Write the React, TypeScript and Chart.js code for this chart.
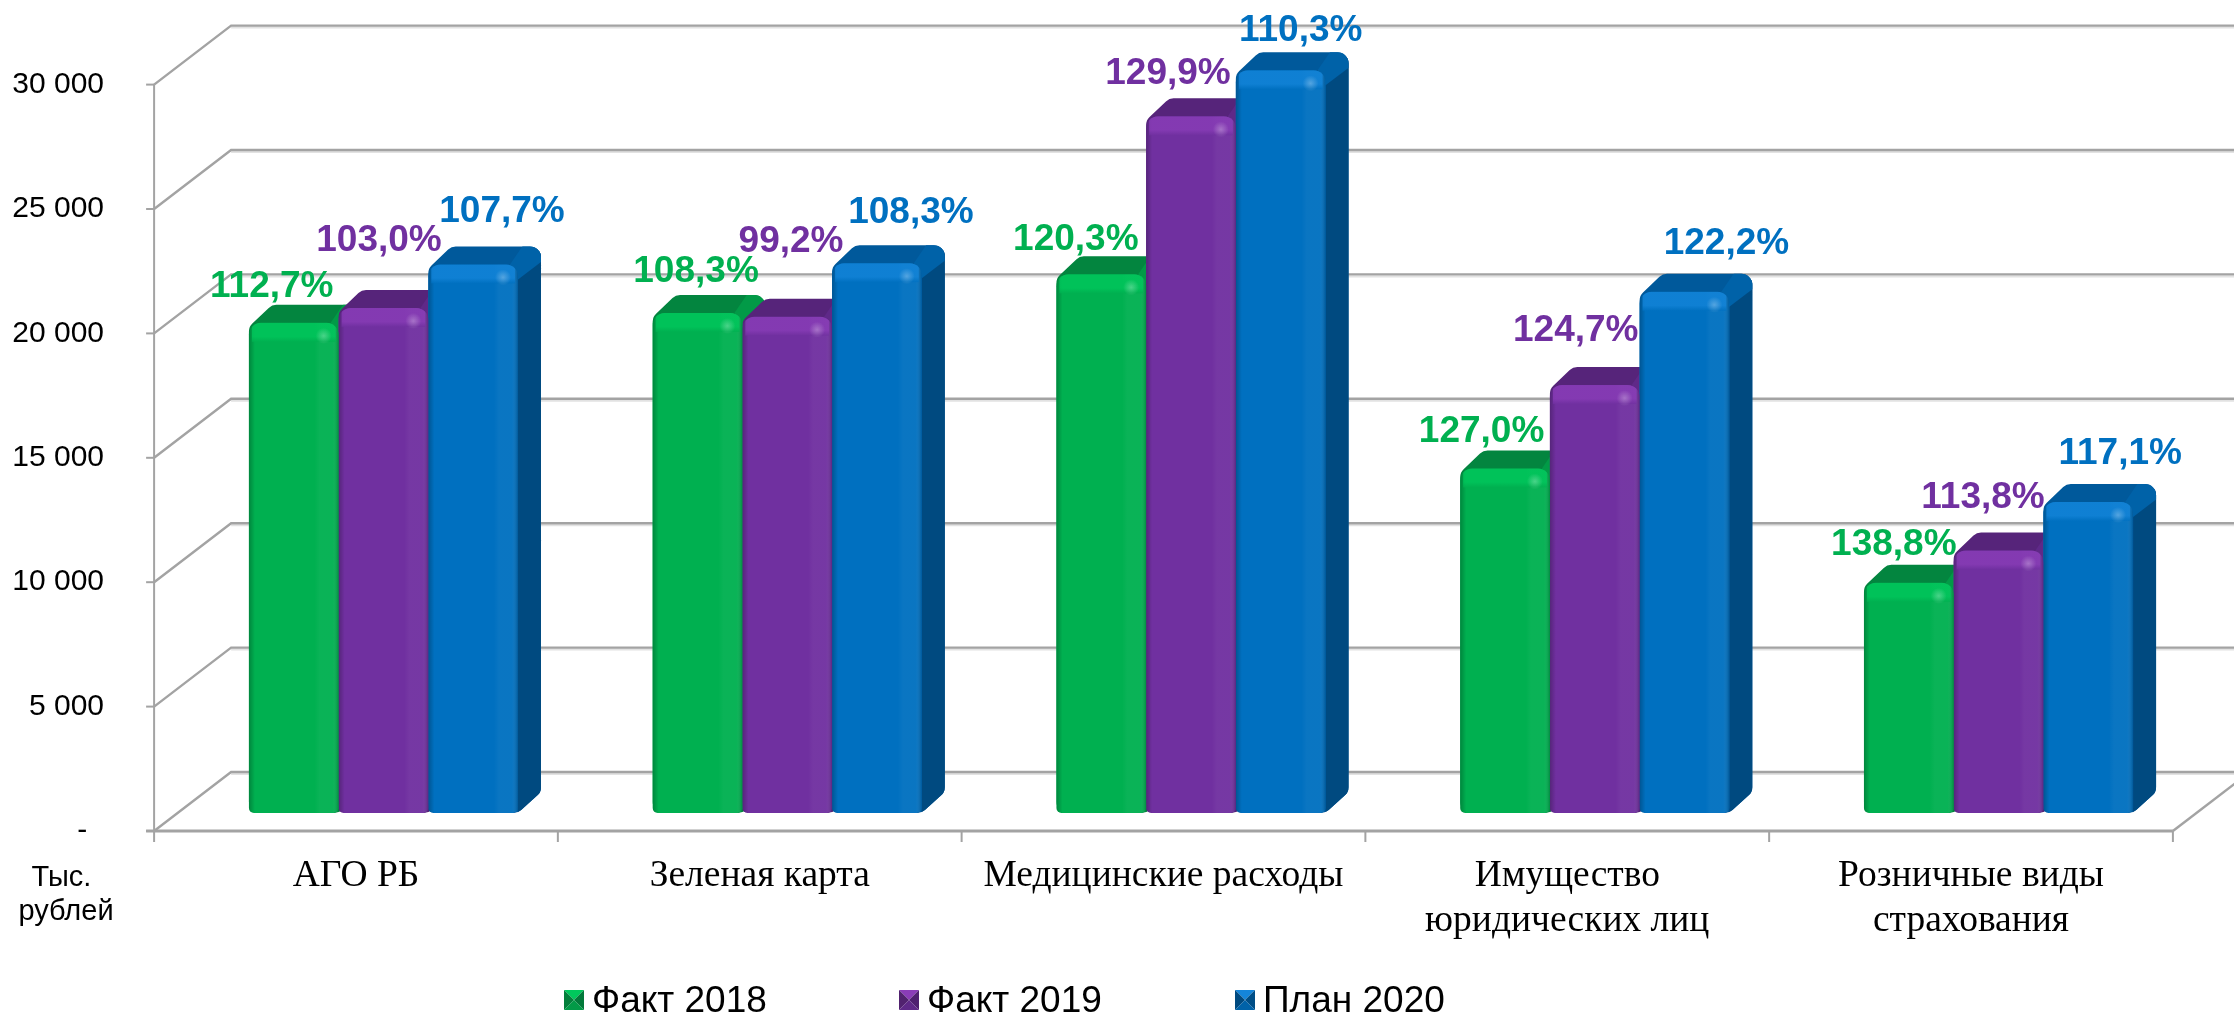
import React, { useEffect, useRef } from "react";
import { Chart, registerables } from "chart.js";

Chart.register(...registerables);

const categories = [
  "АГО РБ",
  "Зеленая карта",
  "Медицинские расходы",
  ["Имущество", "юридических лиц"],
  ["Розничные виды", "страхования"],
];
const fact2018 = [19700, 20100, 21650, 13850, 9250];
const fact2019 = [20300, 19950, 28000, 17200, 10550];
const plan2020 = [22050, 22100, 29850, 20950, 12500];
const growth2018 = ["112,7%", "108,3%", "120,3%", "127,0%", "138,8%"];
const growth2019 = ["103,0%", "99,2%", "129,9%", "124,7%", "113,8%"];
const growth2020 = ["107,7%", "108,3%", "110,3%", "122,2%", "117,1%"];
const seriesNames = ["Факт 2018", "Факт 2019", "План 2020"];
const axisUnit = ["Тыс.", "рублей"];

// Layout and styling, apart from the data
const palette = [
  { front: "#00B050", top: "#03853F", mid: "#029A47", side: "#037F3B", light: "#00C85C", dark: "#02793A" },
  { front: "#7030A0", top: "#56247A", mid: "#5F2988", side: "#51226F", light: "#8A3DB8", dark: "#4E2070" },
  { front: "#0070C0", top: "#00599B", mid: "#0062A8", side: "#004A80", light: "#1485DA", dark: "#004E86" },
];
const labelColors = ["#00B050", "#7030A0", "#0070C0"];
const labelShiftX = [
  [-22, -1.5, -25.5, -23.5, -15],
  [-4.5, 3.8, -23, -19, -15.5],
  [28.8, 34, 20, 42, 32],
];
const labelShiftY = [
  [-39, -44, -37, -39, -41],
  [-70, -78, -45, -57, -56],
  [-55, -53, -42, -51, -51],
];
const FRONT_DX = -27.5;
const FRONT_DY = 18;
const BACK_DX = 49.5;
const BACK_DY = -41;
const DEPTH_X = 23;
const DEPTH_Y = 18;
const LINE = "#A3A3A3";
const SANS = '"Liberation Sans", Arial, sans-serif';
const SERIF = '"Liberation Serif", "Times New Roman", serif';
const legendX = [564, 899, 1235];

function roundedPoly(ctx: CanvasRenderingContext2D, pts: number[][], r: number) {
  ctx.beginPath();
  const n = pts.length;
  const a0 = pts[n - 1];
  const b0 = pts[0];
  ctx.moveTo((a0[0] + b0[0]) / 2, (a0[1] + b0[1]) / 2);
  for (let i = 0; i < n; i++) {
    const p = pts[i];
    const q = pts[(i + 1) % n];
    ctx.arcTo(p[0], p[1], (p[0] + q[0]) / 2, (p[1] + q[1]) / 2, r);
  }
  ctx.closePath();
}

function poly(ctx: CanvasRenderingContext2D, pts: number[][], fill: string) {
  ctx.beginPath();
  pts.forEach((p, i) => (i ? ctx.lineTo(p[0], p[1]) : ctx.moveTo(p[0], p[1])));
  ctx.closePath();
  ctx.fillStyle = fill;
  ctx.fill();
}

const wallsPlugin = {
  id: "walls",
  beforeDatasetsDraw(chart: any) {
    const { ctx, scales } = chart;
    const x0 = scales.x.left + FRONT_DX;
    const x1 = scales.x.right + FRONT_DX;
    const bx0 = scales.x.left + BACK_DX;
    const bx1 = scales.x.right + BACK_DX;
    ctx.save();
    ctx.lineCap = "butt";
    // back wall grid lines with the side-wall diagonals
    scales.y.ticks.forEach((t: any) => {
      const py = scales.y.getPixelForValue(t.value);
      ctx.strokeStyle = "#E2E2E2";
      ctx.lineWidth = 2;
      ctx.beginPath();
      ctx.moveTo(bx0, py + BACK_DY + 2);
      ctx.lineTo(bx1, py + BACK_DY + 2);
      ctx.stroke();
      ctx.strokeStyle = LINE;
      ctx.lineWidth = 2.4;
      ctx.beginPath();
      ctx.moveTo(x0, py + FRONT_DY);
      ctx.lineTo(bx0, py + BACK_DY);
      ctx.lineTo(bx1, py + BACK_DY);
      ctx.stroke();
      // tick on the front value axis
      ctx.lineWidth = 2;
      ctx.beginPath();
      ctx.moveTo(x0 - 8, py + FRONT_DY);
      ctx.lineTo(x0, py + FRONT_DY);
      ctx.stroke();
    });
    // value axis
    ctx.strokeStyle = LINE;
    ctx.lineWidth = 2;
    ctx.beginPath();
    ctx.moveTo(x0, scales.y.top + FRONT_DY);
    ctx.lineTo(x0, scales.y.bottom + FRONT_DY);
    ctx.stroke();
    // floor: right-hand diagonal
    ctx.lineWidth = 2.4;
    ctx.beginPath();
    ctx.moveTo(x1, scales.y.bottom + FRONT_DY);
    ctx.lineTo(bx1, scales.y.bottom + BACK_DY);
    ctx.stroke();
    // category axis and its ticks
    ctx.lineWidth = 3;
    ctx.beginPath();
    ctx.moveTo(x0 - 8, scales.y.bottom + FRONT_DY);
    ctx.lineTo(x1, scales.y.bottom + FRONT_DY);
    ctx.stroke();
    ctx.lineWidth = 2;
    const step = (x1 - x0) / chart.data.labels.length;
    for (let i = 0; i <= chart.data.labels.length; i++) {
      ctx.beginPath();
      ctx.moveTo(x0 + i * step, scales.y.bottom + FRONT_DY);
      ctx.lineTo(x0 + i * step, scales.y.bottom + FRONT_DY + 11);
      ctx.stroke();
    }
    // top and side faces of each bar, left to right
    for (let c = 0; c < chart.data.labels.length; c++) {
      chart.data.datasets.forEach((_: any, d: number) => {
        const bar = chart.getDatasetMeta(d).data[c];
        const col = palette[d];
        const l = bar.x - bar.width / 2;
        const r = bar.x + bar.width / 2;
        const t = bar.y;
        const b = bar.base;
        ctx.save();
        roundedPoly(
          ctx,
          [
            [l, t + 4],
            [l + DEPTH_X, t - DEPTH_Y],
            [r + DEPTH_X, t - DEPTH_Y],
            [r + DEPTH_X, b - DEPTH_Y - 3],
            [r, b],
            [l, b],
          ],
          11
        );
        ctx.clip();
        ctx.fillStyle = col.top;
        ctx.fillRect(l - 2, t - DEPTH_Y - 2, r - l + DEPTH_X + 4, b - t + DEPTH_Y + 4);
        poly(ctx, [[r, t + 2], [r + DEPTH_X + 2, t - DEPTH_Y + 2], [r + DEPTH_X + 2, b], [r, b]], col.side);
        poly(
          ctx,
          [
            [r - 8, t],
            [r + DEPTH_X - 18, t - DEPTH_Y - 1],
            [r + DEPTH_X + 2, t - DEPTH_Y - 1],
            [r + DEPTH_X + 2, t - 4],
            [r, t + 15],
          ],
          col.mid
        );
        ctx.restore();
      });
    }
    ctx.restore();
  },
  afterDatasetsDraw(chart: any) {
    const { ctx } = chart;
    ctx.save();
    chart.data.datasets.forEach((_: any, d: number) => {
      chart.getDatasetMeta(d).data.forEach((bar: any) => {
        const col = palette[d];
        const l = bar.x - bar.width / 2;
        const r = bar.x + bar.width / 2;
        const w = r - l;
        const t = bar.y;
        const b = bar.base;
        ctx.save();
        ctx.beginPath();
        ctx.roundRect(l, t, w, b - t, [12, 12, 5, 5]);
        ctx.clip();
        const h = ctx.createLinearGradient(l, 0, r, 0);
        h.addColorStop(0, "rgba(0,0,0,0.24)");
        h.addColorStop(6 / w, "rgba(0,0,0,0)");
        h.addColorStop(1 - 24 / w, "rgba(255,255,255,0)");
        h.addColorStop(1 - 19 / w, "rgba(255,255,255,0.04)");
        h.addColorStop(1 - 6 / w, "rgba(255,255,255,0.04)");
        h.addColorStop(1, "rgba(0,0,0,0.2)");
        ctx.fillStyle = h;
        ctx.fillRect(l, t, w, b - t);
        const v = ctx.createLinearGradient(0, t, 0, t + 19);
        v.addColorStop(0, col.light);
        v.addColorStop(0.72, col.light);
        v.addColorStop(1, col.front);
        ctx.globalAlpha = 0.75;
        ctx.fillStyle = v;
        ctx.fillRect(l + 3, t, w - 6, 19);
        ctx.globalAlpha = 1;
        const sx = r - 15;
        const sy = t + 13;
        const spot = ctx.createRadialGradient(sx, sy, 0, sx, sy, 8);
        spot.addColorStop(0, "rgba(255,255,255,0.28)");
        spot.addColorStop(1, "rgba(255,255,255,0)");
        ctx.fillStyle = spot;
        ctx.fillRect(sx - 8, sy - 8, 16, 16);
        ctx.restore();
      });
    });
    ctx.restore();
  },
  afterDraw(chart: any) {
    const { ctx, data } = chart;
    ctx.save();
    // growth labels
    ctx.textBaseline = "alphabetic";
    ctx.textAlign = "center";
    ctx.font = `bold 37px ${SANS}`;
    const growth = [growth2018, growth2019, growth2020];
    data.datasets.forEach((_: any, d: number) => {
      ctx.fillStyle = labelColors[d];
      chart.getDatasetMeta(d).data.forEach((bar: any, i: number) => {
        ctx.fillText(growth[d][i], bar.x + labelShiftX[d][i], bar.y + labelShiftY[d][i] + 13);
      });
    });
    // unit under the value axis
    ctx.fillStyle = "#000";
    ctx.font = `29px ${SANS}`;
    ctx.fillText(axisUnit[0], 61.5, 886);
    ctx.fillText(axisUnit[1], 66, 920);
    // legend
    data.datasets.forEach((ds: any, d: number) => {
      const col = palette[d];
      const x = legendX[d];
      const y = 990;
      const s = 20;
      const cx = x + s / 2;
      const cy = y + s / 2;
      poly(ctx, [[x, y], [x + s, y], [cx, cy]], col.light);
      poly(ctx, [[x, y], [cx, cy], [x, y + s]], col.side);
      poly(ctx, [[x + s, y], [cx, cy], [x + s, y + s]], col.dark);
      poly(ctx, [[x, y + s], [x + s, y + s], [cx, cy]], col.mid);
      ctx.fillStyle = "#000";
      ctx.textAlign = "left";
      ctx.font = `37px ${SANS}`;
      ctx.fillText(ds.label, x + 28, 1012);
    });
    ctx.restore();
  },
};

export default function App() {
  const ref = useRef<HTMLCanvasElement>(null);
  useEffect(() => {
    document.body.style.margin = "0";
    document.body.style.background = "#fff";
    const chart = new Chart(ref.current as HTMLCanvasElement, {
      type: "bar",
      data: {
        labels: categories as any,
        datasets: [fact2018, fact2019, plan2020].map((values, d) => ({
          label: seriesNames[d],
          data: values,
          backgroundColor: palette[d].front,
          borderWidth: 0,
          borderSkipped: false,
          borderRadius: { topLeft: 12, topRight: 12, bottomLeft: 5, bottomRight: 5 },
          categoryPercentage: 0.6665,
          barPercentage: 1,
        })),
      },
      options: {
        animation: false,
        responsive: false,
        devicePixelRatio: 1,
        layout: { autoPadding: false, padding: { left: 0, top: 66.6, right: 33.6, bottom: 12 } },
        plugins: { legend: { display: false }, tooltip: { enabled: false }, title: { display: false } },
        events: [],
        scales: {
          x: {
            afterFit: (s: any) => {
              s.height = 190;
            },
            grid: { display: false, drawTicks: false },
            border: { display: false },
            ticks: {
              autoSkip: false,
              maxRotation: 0,
              minRotation: 0,
              padding: 41,
              labelOffset: FRONT_DX,
              color: "#000",
              font: { family: SERIF, size: 37.5 },
            },
          },
          y: {
            min: 0,
            max: 30000,
            afterFit: (s: any) => {
              s.width = 181.6;
              s.paddingTop = 0;
              s.paddingBottom = 0;
            },
            grid: { display: false, drawTicks: false },
            border: { display: false },
            ticks: {
              stepSize: 5000,
              padding: 77.6,
              labelOffset: FRONT_DY,
              color: "#000",
              font: { family: SANS, size: 30 },
              callback: (v: any) =>
                Number(v) === 0 ? "-\u00A0\u00A0" : String(v).replace(/(\d+)(\d{3})$/, "$1 $2"),
            },
          },
        },
      } as any,
      plugins: [wallsPlugin as any],
    });
    return () => chart.destroy();
  }, []);
  return <canvas ref={ref} width={2234} height={1015} style={{ display: "block", width: 2234, height: 1015 }} />;
}
